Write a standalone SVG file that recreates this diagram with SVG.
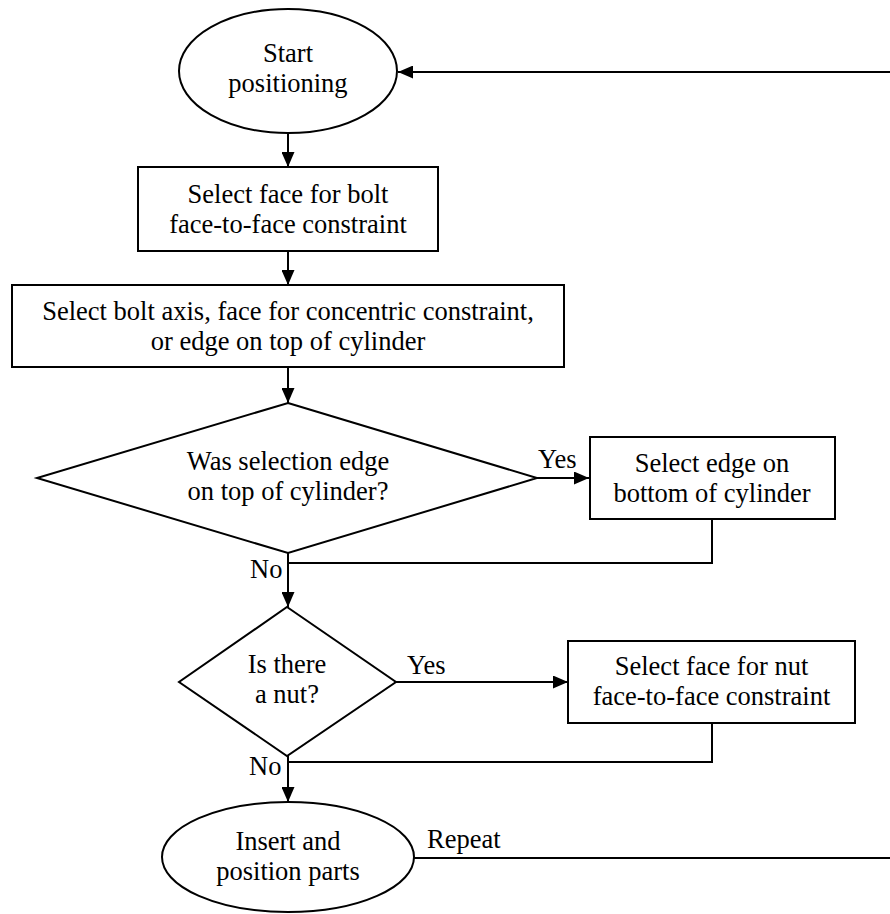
<svg xmlns="http://www.w3.org/2000/svg" width="890" height="914" viewBox="0 0 890 914">
<style>
.shape{fill:#fff;stroke:#000;stroke-width:2}
.conn{fill:none;stroke:#000;stroke-width:2}
text{font-family:"Liberation Serif","Times New Roman",serif;font-size:26.5px;fill:#000}
.c{text-anchor:middle}
</style>
<defs>
<marker id="arr" markerUnits="userSpaceOnUse" markerWidth="15" markerHeight="13" viewBox="0 0 15 13" refX="15" refY="6.5" orient="auto">
<path d="M0,0 L15,6.5 L0,13 z" fill="#000"/>
</marker>
</defs>
<rect width="890" height="914" fill="#fff"/>
<g id="connectors">
<line class="conn" x1="890" y1="72" x2="398" y2="72" marker-end="url(#arr)"/>
<line class="conn" x1="288" y1="133" x2="288" y2="167" marker-end="url(#arr)"/>
<line class="conn" x1="288" y1="251" x2="288" y2="285" marker-end="url(#arr)"/>
<line class="conn" x1="288" y1="367" x2="288" y2="403" marker-end="url(#arr)"/>
<line class="conn" x1="537" y1="478" x2="589" y2="478" marker-end="url(#arr)"/>
<polyline class="conn" points="712,519 712,563 288,563"/>
<line class="conn" x1="288" y1="553" x2="288" y2="607" marker-end="url(#arr)"/>
<line class="conn" x1="396" y1="682" x2="568" y2="682" marker-end="url(#arr)"/>
<polyline class="conn" points="712,723 712,762 288,762"/>
<line class="conn" x1="288" y1="756" x2="288" y2="802" marker-end="url(#arr)"/>
<line class="conn" x1="414" y1="858" x2="890" y2="858"/>
<text x="538" y="468">Yes</text>
<text x="250" y="578">No</text>
<text x="407" y="674">Yes</text>
<text x="249" y="775">No</text>
<text x="427" y="848">Repeat</text>
</g>
<g id="start">
<ellipse class="shape" cx="288" cy="71" rx="109" ry="62"/>
<text class="c" x="288" y="62">Start</text>
<text class="c" x="288" y="92">positioning</text>
</g>
<g id="box1">
<rect class="shape" x="138" y="167" width="300" height="84"/>
<text class="c" x="288" y="203">Select face for bolt</text>
<text class="c" x="288" y="233">face-to-face constraint</text>
</g>
<g id="box2">
<rect class="shape" x="12" y="285" width="552" height="82"/>
<text class="c" x="288" y="320">Select bolt axis, face for concentric constraint,</text>
<text class="c" x="288" y="350">or edge on top of cylinder</text>
</g>
<g id="decision1">
<polygon class="shape" points="288,403 537,478 288,553 37,478"/>
<text class="c" x="288" y="470">Was selection edge</text>
<text class="c" x="288" y="500">on top of cylinder?</text>
</g>
<g id="box3">
<rect class="shape" x="590" y="437" width="245" height="82"/>
<text class="c" x="712" y="472">Select edge on</text>
<text class="c" x="712" y="502">bottom of cylinder</text>
</g>
<g id="decision2">
<polygon class="shape" points="287,607 396,682 287,756 179,682"/>
<text class="c" x="287" y="673">Is there</text>
<text class="c" x="287" y="703">a nut?</text>
</g>
<g id="box4">
<rect class="shape" x="568" y="641" width="287" height="82"/>
<text class="c" x="711.5" y="675">Select face for nut</text>
<text class="c" x="711.5" y="705">face-to-face constraint</text>
</g>
<g id="end">
<ellipse class="shape" cx="288" cy="857" rx="126" ry="55"/>
<text class="c" x="288" y="850">Insert and</text>
<text class="c" x="288" y="880">position parts</text>
</g>
</svg>
